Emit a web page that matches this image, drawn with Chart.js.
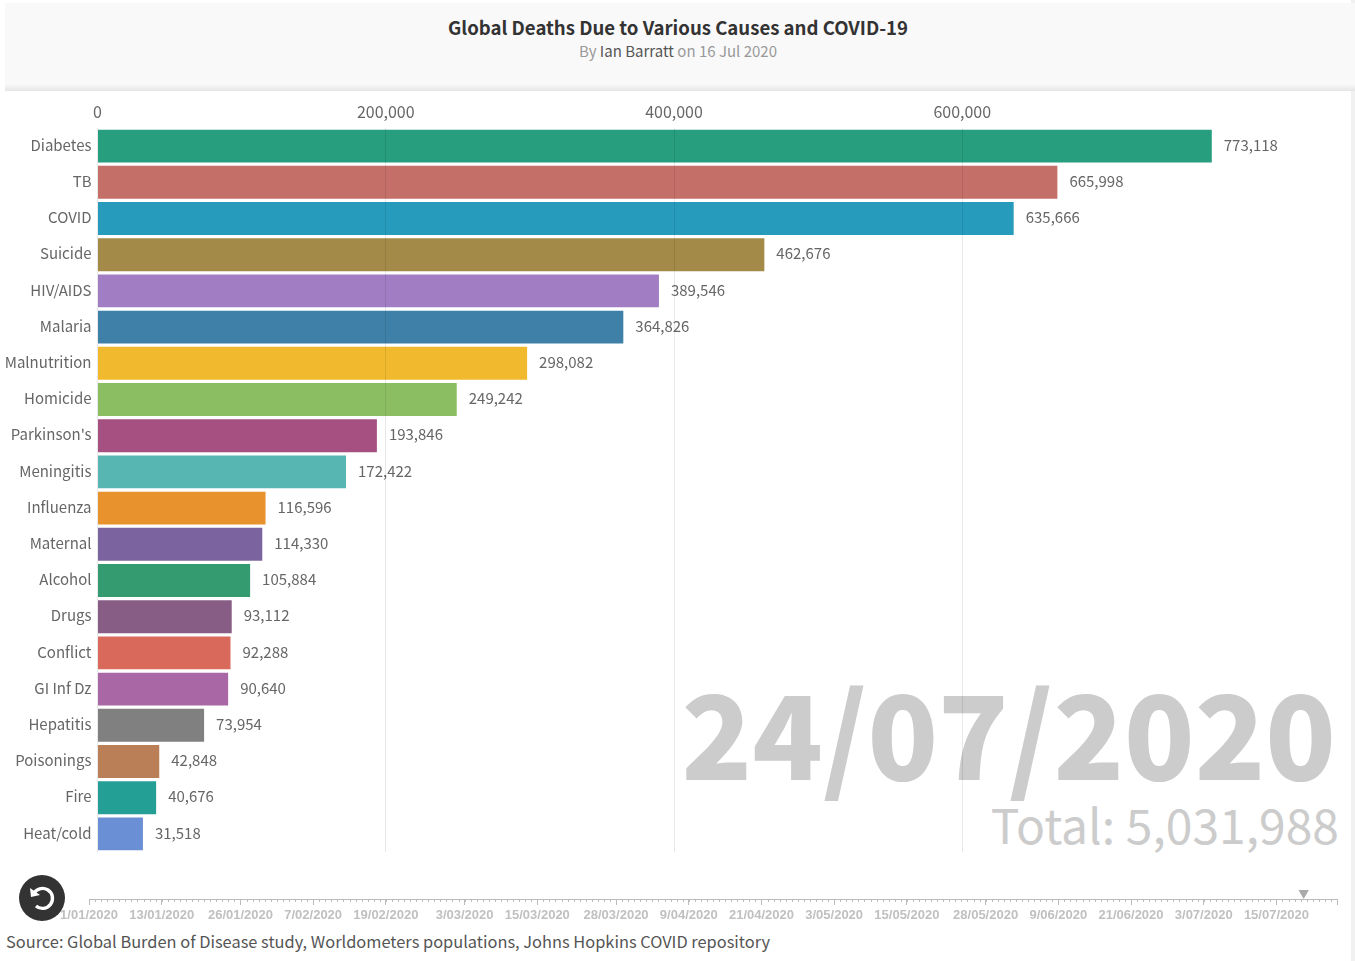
<!DOCTYPE html>
<html>
<head>
<meta charset="utf-8">
<title>Global Deaths Due to Various Causes and COVID-19</title>
<script src="https://cdn.jsdelivr.net/npm/chart.js@4"></script>
<style>
  html, body { margin: 0; background: #fff; }
  body { position: relative; width: 1355px; height: 961px; overflow: hidden; font-family: "Noto Sans CJK SC", sans-serif; }
  .strip { position: absolute; left: 1351px; top: 0; width: 4px; height: 961px; background: #f1f1f1; }
  .header { position: absolute; left: 5px; top: 3px; width: 1350px; height: 88px; background: linear-gradient(#f9f9f9 92%, #e6e6e6); text-align: center; }
  .title { position: absolute; left: -2px; width: 100%; top: 10px; font-size: 18.6px; line-height: 28px; font-weight: 700; color: #333; }
  .sub { position: absolute; left: -2px; width: 100%; top: 37px; font-size: 15px; line-height: 22px; color: #999; }
  .sub b { font-weight: 400; color: #555; }
  .date, .total { position: absolute; color: #ccc; white-space: nowrap; }
  .date { right: 19px; top: 659px; font-size: 116px; line-height: 140px; font-weight: 900; }
  .total { right: 16px; top: 793px; font-size: 48px; line-height: 60px; }
  .main { position: absolute; left: 0; top: 96px; width: 1355px; height: 771px; }
  .time { position: absolute; left: 0; top: 874px; width: 1355px; height: 50px; }
  .replay { position: absolute; left: 19px; top: 875px; }
  .source { position: absolute; left: 6px; top: 929px; font-size: 16.4px; line-height: 24px; color: #555; white-space: nowrap; }
</style>
</head>
<body>
<div class="strip"></div>
<div class="header">
  <div class="title">Global Deaths Due to Various Causes and COVID-19</div>
  <div class="sub">By <b>Ian Barratt</b> on 16 Jul 2020</div>
</div>
<div class="date">24/07/2020</div>
<div class="total">Total: 5,031,988</div>
<div class="main"><canvas id="myChart"></canvas></div>
<div class="time"><canvas id="timeline"></canvas></div>
<svg class="replay" width="46" height="46" viewBox="0 0 46 46">
  <circle cx="23" cy="23" r="23" fill="#333"/>
  <path d="M14.5 19 A10 10 0 1 1 17 31" fill="none" stroke="#fff" stroke-width="3.4"/>
  <path d="M11 13 L12 22 L21 20 Z" fill="#fff"/>
</svg>
<div class="source">Source: Global Burden of Disease study, Worldometers populations, Johns Hopkins COVID repository</div>

<script>
// bars, top to bottom
const causes = ['Diabetes', 'TB', 'COVID', 'Suicide', 'HIV/AIDS', 'Malaria', 'Malnutrition', 'Homicide', "Parkinson's", 'Meningitis', 'Influenza', 'Maternal', 'Alcohol', 'Drugs', 'Conflict', 'GI Inf Dz', 'Hepatitis', 'Poisonings', 'Fire', 'Heat/cold'];
const deaths = [773118, 665998, 635666, 462676, 389546, 364826, 298082, 249242, 193846, 172422, 116596, 114330, 105884, 93112, 92288, 90640, 73954, 42848, 40676, 31518];
const barColors = ['#279e7e', '#c46f67', '#279bbc', '#a38a48', '#a17dc3', '#3f80a9', '#f1b92e', '#8bbd63', '#a65081', '#57b5b2', '#e8922e', '#7b639f', '#339b6f', '#875c85', '#d9695a', '#aa67a5', '#808080', '#bb7f58', '#249f96', '#6b8fd4'];
const valueTicks = [0, 200000, 400000, 600000];

// timeline, in days since 1 Jan
const timeDays = [0, 12, 25, 37, 49, 62, 74, 87, 99, 111, 123, 135, 148, 160, 172, 184, 196, 206];
const timeLabels = ['1/01/2020', '13/01/2020', '26/01/2020', '7/02/2020', '19/02/2020', '3/03/2020', '15/03/2020', '28/03/2020', '9/04/2020', '21/04/2020', '3/05/2020', '15/05/2020', '28/05/2020', '9/06/2020', '21/06/2020', '3/07/2020', '15/07/2020', ''];
const markerDay = [200.5];

const sans = '"Noto Sans CJK SC", sans-serif';

// the number at the end of each bar
const valueLabels = {
  id: 'valueLabels',
  afterDatasetsDraw(chart) {
    const ctx = chart.ctx;
    ctx.save();
    ctx.font = '15px ' + sans;
    ctx.fillStyle = '#666';
    ctx.textBaseline = 'middle';
    chart.getDatasetMeta(0).data.forEach((bar, i) => {
      ctx.fillText(deaths[i].toLocaleString('en-US'), bar.x + 12, bar.y - 1);
    });
    ctx.restore();
  }
};

new Chart(document.getElementById('myChart'), {
  type: 'bar',
  data: {
    labels: causes,
    datasets: [{ data: deaths, backgroundColor: barColors, borderWidth: 0, barPercentage: 1, categoryPercentage: 0.91 }]
  },
  options: {
    indexAxis: 'y',
    responsive: true,
    maintainAspectRatio: false,
    animation: false,
    layout: { padding: { right: 18 } },
    plugins: { legend: { display: false }, tooltip: { enabled: false } },
    scales: {
      x: {
        position: 'top',
        min: 0,
        max: 860000,
        afterBuildTicks: s => { s.ticks = valueTicks.map(v => ({ value: v })); },
        afterFit: s => { s.height = 32; },
        grid: { color: 'rgba(0,0,0,0.09)', z: 1, drawTicks: false },
        border: { display: false },
        ticks: { color: '#666', font: { family: sans, size: 16 }, padding: 6, maxRotation: 0, callback: v => v.toLocaleString('en-US') }
      },
      y: {
        afterFit: s => { s.width = 97.5; },
        grid: { display: false, drawTicks: false },
        border: { display: false },
        ticks: { color: '#666', font: { family: sans, size: 15 }, padding: 6, autoSkip: false, labelOffset: -1 }
      }
    }
  },
  plugins: [valueLabels]
});

// small daily ticks under the timeline
const dayTicks = {
  id: 'dayTicks',
  afterDraw(chart) {
    const ctx = chart.ctx, x = chart.scales.x, y = chart.chartArea.bottom;
    ctx.save();
    ctx.strokeStyle = '#bbb';
    ctx.lineWidth = 1;
    ctx.beginPath();
    for (let d = x.min; d <= x.max; d++) {
      const px = Math.round(x.getPixelForValue(d)) + 0.5;
      ctx.moveTo(px, y);
      ctx.lineTo(px, y + 3);
    }
    ctx.stroke();
    ctx.restore();
  }
};

new Chart(document.getElementById('timeline'), {
  type: 'scatter',
  data: {
    datasets: [{
      data: markerDay.map(d => ({ x: d, y: 0.32 })),
      pointStyle: 'triangle',
      rotation: 180,
      radius: 6,
      backgroundColor: '#aaa',
      borderWidth: 0
    }]
  },
  options: {
    responsive: true,
    maintainAspectRatio: false,
    animation: false,
    layout: { padding: { left: 89, right: 18 } },
    plugins: { legend: { display: false }, tooltip: { enabled: false } },
    scales: {
      x: {
        type: 'linear',
        min: 0,
        max: 206,
        afterBuildTicks: s => { s.ticks = timeDays.map(v => ({ value: v })); },
        grid: { drawOnChartArea: false, tickLength: 6, tickColor: '#bbb' },
        border: { color: '#bbb' },
        ticks: {
          color: '#c0c0c0',
          font: { family: '"Liberation Sans"', size: 13, weight: 'bold' },
          padding: 3,
          autoSkip: false,
          maxRotation: 0,
          callback: (v, i) => timeLabels[i]
        }
      },
      y: { display: false, min: 0, max: 1 }
    }
  },
  plugins: [dayTicks]
});
</script>
</body>
</html>
